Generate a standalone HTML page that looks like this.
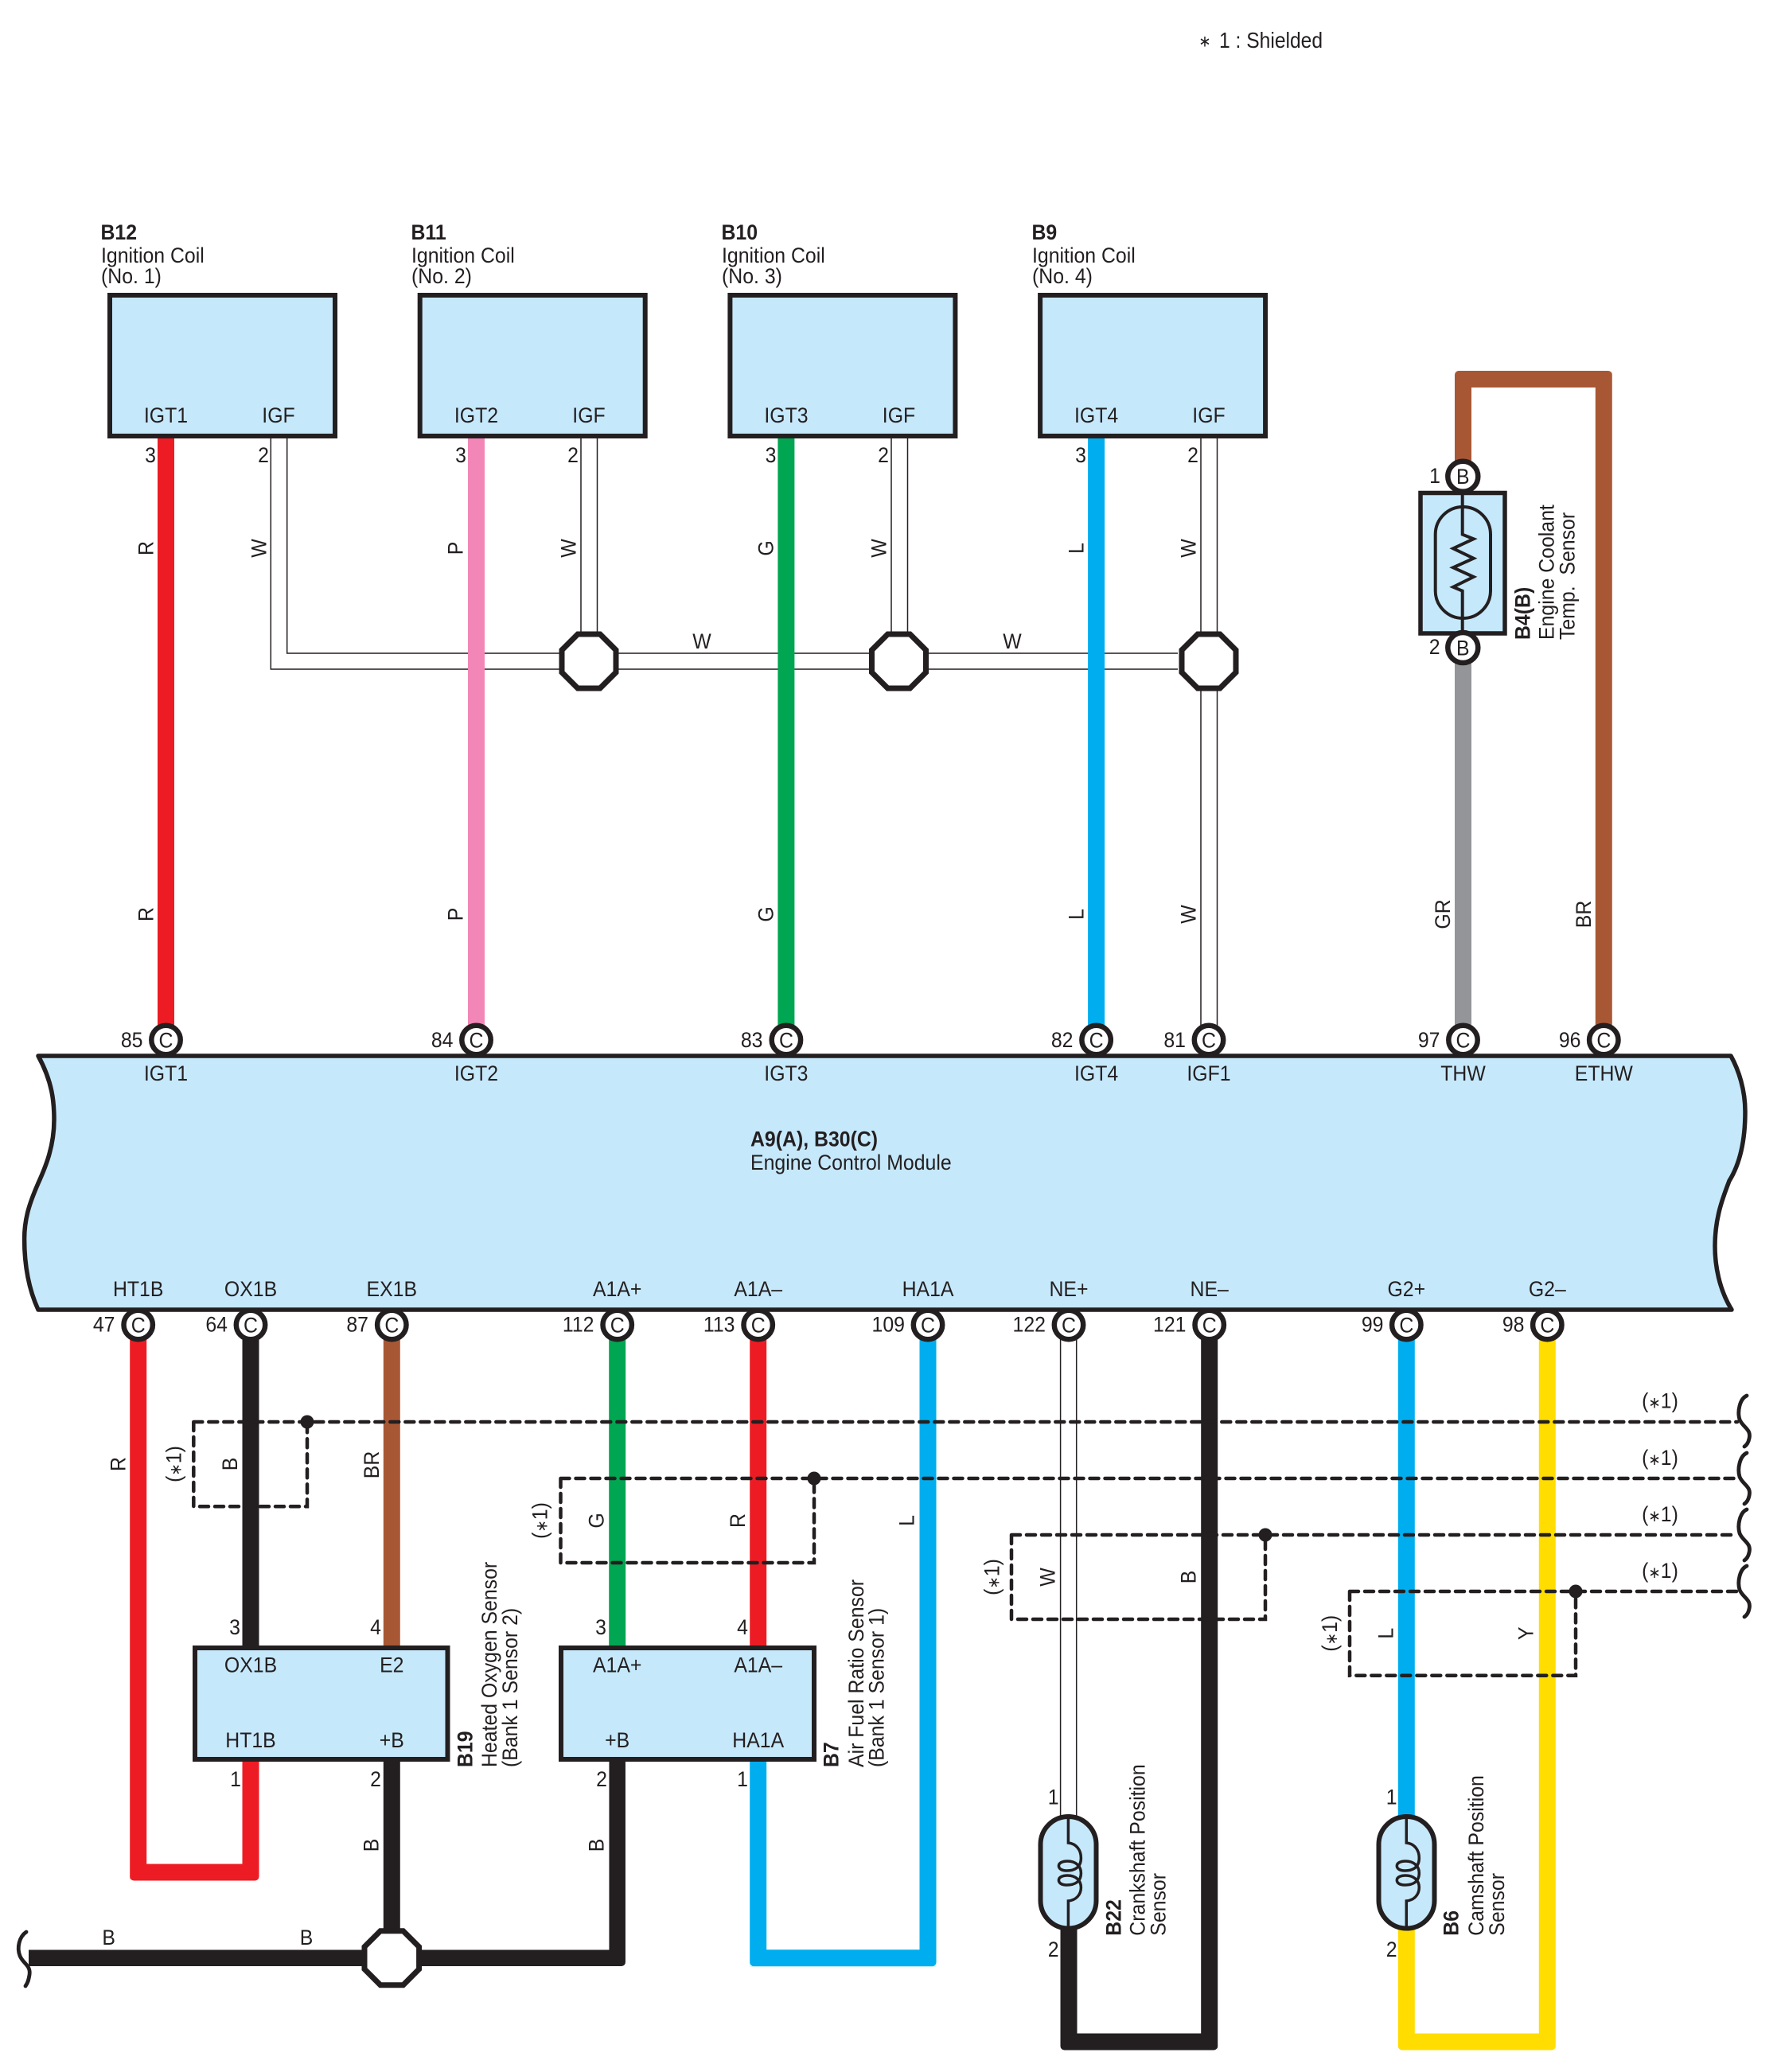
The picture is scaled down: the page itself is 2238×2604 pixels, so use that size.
<!DOCTYPE html>
<html><head><meta charset="utf-8"><title>Wiring diagram</title>
<style>
html,body{margin:0;padding:0;background:#fff}
svg{display:block}
text{font-family:"Liberation Sans",Arial,sans-serif;font-size:27px;fill:#231F20}
.m{text-anchor:middle}.e{text-anchor:end}.b{font-weight:bold}
tspan.s{font-size:20px}
.w{fill:none;stroke-width:21}
.th{stroke:#231F20;stroke-width:1.5;fill:none}
.box{fill:#C6E8FB;stroke:#231F20;stroke-width:6}
.c{fill:#fff;stroke:#231F20;stroke-width:6.5}
.o{fill:#fff;stroke:#231F20;stroke-width:7}
.d{fill:none;stroke:#231F20;stroke-width:4.5;stroke-dasharray:11 8;stroke-linecap:round}
.br{fill:none;stroke:#231F20;stroke-width:4.8;stroke-linecap:round}
</style></head><body>
<svg xmlns="http://www.w3.org/2000/svg" width="2238" height="2604" viewBox="0 0 2238 2604">
<rect width="2238" height="2604" fill="#fff"/>

<!-- legend -->
<text class="m" style="font-size:20px" transform="translate(1514 58.5) scale(.92 1)">∗</text>
<text style="font-size:28px" transform="translate(1532 60) scale(.88 1)">1 : Shielded</text>

<!-- coil headers -->
<text class="b" transform="translate(126.5 301) scale(.92 1)">B12</text>
<text transform="translate(127 330) scale(.92 1)">Ignition Coil</text>
<text transform="translate(127 356) scale(.92 1)">(No. 1)</text>
<text class="b" transform="translate(516.5 301) scale(.92 1)">B11</text>
<text transform="translate(517 330) scale(.92 1)">Ignition Coil</text>
<text transform="translate(517 356) scale(.92 1)">(No. 2)</text>
<text class="b" transform="translate(906.5 301) scale(.92 1)">B10</text>
<text transform="translate(907 330) scale(.92 1)">Ignition Coil</text>
<text transform="translate(907 356) scale(.92 1)">(No. 3)</text>
<text class="b" transform="translate(1296.5 301) scale(.92 1)">B9</text>
<text transform="translate(1297 330) scale(.92 1)">Ignition Coil</text>
<text transform="translate(1297 356) scale(.92 1)">(No. 4)</text>

<!-- white double wires top -->
<path class="th" d="M340.3 550V841H1480M360.7 550V821H1480"/>
<path class="th" d="M730 550V800M750.5 550V800M1120 550V800M1140.5 550V800M1509 550V1290M1529.5 550V1290"/>

<!-- top wires -->
<path class="w" stroke="#ED1C24" d="M208.5 548V1290"/>
<path class="w" stroke="#F287B7" d="M598.5 548V1290"/>
<path class="w" stroke="#00A651" d="M987.9 548V1290"/>
<path class="w" stroke="#00AEEF" d="M1377.6 548V1290"/>
<path class="w" stroke="#A85735" d="M1838.5 590V476.5H2015.3V1295"/>
<path class="w" stroke="#939598" d="M1838.5 820V1295"/>
<path fill="#fff" d="M1828 466h5a5 5 0 0 0 -5 5zM2025.8 466h-5a5 5 0 0 1 5 5z"/>

<!-- coil boxes -->
<rect class="box" x="138" y="371" width="283" height="177"/>
<rect class="box" x="527.7" y="371" width="283" height="177"/>
<rect class="box" x="917.4" y="371" width="283" height="177"/>
<rect class="box" x="1307.1" y="371" width="283" height="177"/>

<text class="m" transform="translate(208.5 531) scale(.92 1)">IGT1</text>
<text class="m" transform="translate(350 531) scale(.92 1)">IGF</text>
<text class="m" transform="translate(598.5 531) scale(.92 1)">IGT2</text>
<text class="m" transform="translate(740 531) scale(.92 1)">IGF</text>
<text class="m" transform="translate(988 531) scale(.92 1)">IGT3</text>
<text class="m" transform="translate(1129.5 531) scale(.92 1)">IGF</text>
<text class="m" transform="translate(1377.6 531) scale(.92 1)">IGT4</text>
<text class="m" transform="translate(1519 531) scale(.92 1)">IGF</text>

<text class="e" transform="translate(196 581) scale(.92 1)">3</text>
<text class="e" transform="translate(338 581) scale(.92 1)">2</text>
<text class="e" transform="translate(586 581) scale(.92 1)">3</text>
<text class="e" transform="translate(727 581) scale(.92 1)">2</text>
<text class="e" transform="translate(975.5 581) scale(.92 1)">3</text>
<text class="e" transform="translate(1117 581) scale(.92 1)">2</text>
<text class="e" transform="translate(1365 581) scale(.92 1)">3</text>
<text class="e" transform="translate(1506 581) scale(.92 1)">2</text>

<!-- vertical colour labels top -->
<text class="m" transform="translate(192.7 689) rotate(-90) scale(.92 1)">R</text>
<text class="m" transform="translate(334.7 689) rotate(-90) scale(.92 1)">W</text>
<text class="m" transform="translate(581.7 689) rotate(-90) scale(.92 1)">P</text>
<text class="m" transform="translate(723.7 689) rotate(-90) scale(.92 1)">W</text>
<text class="m" transform="translate(971.7 689) rotate(-90) scale(.92 1)">G</text>
<text class="m" transform="translate(1113.7 689) rotate(-90) scale(.92 1)">W</text>
<text class="m" transform="translate(1361.3 689) rotate(-90) scale(.92 1)">L</text>
<text class="m" transform="translate(1502.7 689) rotate(-90) scale(.92 1)">W</text>
<text class="m" transform="translate(192.7 1149) rotate(-90) scale(.92 1)">R</text>
<text class="m" transform="translate(581.7 1149) rotate(-90) scale(.92 1)">P</text>
<text class="m" transform="translate(971.7 1149) rotate(-90) scale(.92 1)">G</text>
<text class="m" transform="translate(1361.3 1149) rotate(-90) scale(.92 1)">L</text>
<text class="m" transform="translate(1502.7 1149) rotate(-90) scale(.92 1)">W</text>
<text class="m" transform="translate(1822.2 1149) rotate(-90) scale(.92 1)">GR</text>
<text class="m" transform="translate(1999.2 1149) rotate(-90) scale(.92 1)">BR</text>
<text class="m" transform="translate(882 815) scale(.92 1)">W</text>
<text class="m" transform="translate(1272 815) scale(.92 1)">W</text>

<!-- octagons -->
<path class="o" d="M726 797H754L774 817V845L754 865H726L706 845V817Z"/>
<path class="o" d="M1115.5 797H1143.5L1163.5 817V845L1143.5 865H1115.5L1095.5 845V817Z"/>
<path class="o" d="M1505 797H1533L1553 817V845L1533 865H1505L1485 845V817Z"/>

<!-- thermistor B4 -->
<rect class="box" x="1785" y="619.5" width="106" height="176.5" style="stroke-width:5.5"/>
<rect x="1803.7" y="637" width="69.3" height="140" rx="34.6" ry="34.6" fill="none" stroke="#231F20" stroke-width="4"/>
<path d="M1837.7 619V671.7L1851.7 677.3L1826 689.3L1851.7 701.7L1826 713.3L1851.7 725L1826 737.7L1837.7 742.7V795" fill="none" stroke="#231F20" stroke-width="4"/>
<circle class="c" cx="1838.3" cy="598.7" r="19"/>
<circle class="c" cx="1838.3" cy="814" r="19"/>
<text class="m" transform="translate(1838.3 608.2) scale(.92 1)">B</text>
<text class="m" transform="translate(1838.3 823.5) scale(.92 1)">B</text>
<text class="m" transform="translate(1803 607) scale(.92 1)">1</text>
<text class="m" transform="translate(1802.7 822) scale(.92 1)">2</text>
<text class="b" transform="translate(1922.7 804) rotate(-90) scale(.92 1)">B4(B)</text>
<text transform="translate(1952.7 804) rotate(-90) scale(.92 1)">Engine Coolant</text>
<text transform="translate(1978.7 804) rotate(-90) scale(.92 1)">Temp.&#160;&#160;Sensor</text>

<!-- bottom white pair -->
<path class="th" d="M1332.6 1680V2290M1352.7 1680V2290"/>

<!-- bottom wires -->
<path class="w" stroke="#ED1C24" d="M173.7 1680V2353H315V2210"/>
<path class="w" stroke="#231F20" d="M315 1680V2072"/>
<path class="w" stroke="#A85735" d="M492.3 1680V2072"/>
<path class="w" stroke="#00A651" d="M775.7 1680V2072"/>
<path class="w" stroke="#ED1C24" d="M952.7 1680V2072"/>
<path class="w" stroke="#00AEEF" d="M1166 1680V2460.7H952.7V2210"/>
<path class="w" stroke="#231F20" d="M1519.7 1680V2566H1343V2420"/>
<path class="w" stroke="#00AEEF" d="M1767.3 1680V2290"/>
<path class="w" stroke="#FFDD00" d="M1944.3 1680V2566H1767.3V2420"/>
<path class="w" stroke="#231F20" d="M492.3 2210V2440"/>
<path class="w" stroke="#231F20" style="stroke-width:20.5" d="M36 2460.7H775.7V2210"/>
<!-- rounded outer corners -->
<path fill="#fff" d="M163.2 2363.5h5a5 5 0 0 1 -5 -5zM325.5 2363.5h-5a5 5 0 0 0 5 -5zM786 2471h-5a5 5 0 0 0 5 -5zM942.2 2471.2h5a5 5 0 0 1 -5 -5zM1176.5 2471.2h-5a5 5 0 0 0 5 -5zM1332.5 2576.5h5a5 5 0 0 1 -5 -5zM1530.2 2576.5h-5a5 5 0 0 0 5 -5zM1756.8 2576.5h5a5 5 0 0 1 -5 -5zM1954.8 2576.5h-5a5 5 0 0 0 5 -5z"/>

<!-- ECM -->
<path d="M48 1327C66 1360 68 1385 68 1407C68 1440 58 1465 48 1487C38 1510 30.6 1530 30.6 1557C30.6 1590 36 1620 48 1646H2176C2160 1620 2155 1590 2155 1566C2155 1530 2165 1505 2173 1484C2188 1460 2193 1430 2193 1397C2193 1370 2185 1345 2175 1327Z" fill="#C6E8FB" stroke="#231F20" stroke-width="5.5" stroke-linejoin="round"/>
<text class="b" transform="translate(943 1440.7) scale(.92 1)">A9(A), B30(C)</text>
<text transform="translate(943 1470) scale(.92 1)">Engine Control Module</text>

<!-- ECM top terminals -->
<circle class="c" cx="208.5" cy="1307" r="18.2"/><circle class="c" cx="598.5" cy="1307" r="18.2"/><circle class="c" cx="987.9" cy="1307" r="18.2"/><circle class="c" cx="1377.6" cy="1307" r="18.2"/><circle class="c" cx="1519" cy="1307" r="18.2"/><circle class="c" cx="1838.5" cy="1307" r="18.2"/><circle class="c" cx="2015.3" cy="1307" r="18.2"/>
<text class="m" transform="translate(208.5 1316.5) scale(.92 1)">C</text>
<text class="m" transform="translate(598.5 1316.5) scale(.92 1)">C</text>
<text class="m" transform="translate(987.9 1316.5) scale(.92 1)">C</text>
<text class="m" transform="translate(1377.6 1316.5) scale(.92 1)">C</text>
<text class="m" transform="translate(1519 1316.5) scale(.92 1)">C</text>
<text class="m" transform="translate(1838.5 1316.5) scale(.92 1)">C</text>
<text class="m" transform="translate(2015.3 1316.5) scale(.92 1)">C</text>
<text class="e" transform="translate(179.5 1316) scale(.92 1)">85</text>
<text class="e" transform="translate(569.5 1316) scale(.92 1)">84</text>
<text class="e" transform="translate(958.5 1316) scale(.92 1)">83</text>
<text class="e" transform="translate(1348.5 1316) scale(.92 1)">82</text>
<text class="e" transform="translate(1490 1316) scale(.92 1)">81</text>
<text class="e" transform="translate(1809.5 1316) scale(.92 1)">97</text>
<text class="e" transform="translate(1986.5 1316) scale(.92 1)">96</text>
<text class="m" transform="translate(208.5 1358) scale(.92 1)">IGT1</text>
<text class="m" transform="translate(598.5 1358) scale(.92 1)">IGT2</text>
<text class="m" transform="translate(987.9 1358) scale(.92 1)">IGT3</text>
<text class="m" transform="translate(1377.6 1358) scale(.92 1)">IGT4</text>
<text class="m" transform="translate(1519 1358) scale(.92 1)">IGF1</text>
<text class="m" transform="translate(1838.5 1358) scale(.92 1)">THW</text>
<text class="m" transform="translate(2015.3 1358) scale(.92 1)">ETHW</text>

<!-- ECM bottom labels/terminals -->
<text class="m" transform="translate(173.7 1629) scale(.92 1)">HT1B</text>
<text class="m" transform="translate(315 1629) scale(.92 1)">OX1B</text>
<text class="m" transform="translate(492.3 1629) scale(.92 1)">EX1B</text>
<text class="m" transform="translate(775.7 1629) scale(.92 1)">A1A+</text>
<text class="m" transform="translate(952.7 1629) scale(.92 1)">A1A–</text>
<text class="m" transform="translate(1166 1629) scale(.92 1)">HA1A</text>
<text class="m" transform="translate(1343 1629) scale(.92 1)">NE+</text>
<text class="m" transform="translate(1519.7 1629) scale(.92 1)">NE–</text>
<text class="m" transform="translate(1767.3 1629) scale(.92 1)">G2+</text>
<text class="m" transform="translate(1944.3 1629) scale(.92 1)">G2–</text>
<circle class="c" cx="173.7" cy="1665" r="18.2"/><circle class="c" cx="315" cy="1665" r="18.2"/><circle class="c" cx="492.3" cy="1665" r="18.2"/><circle class="c" cx="775.7" cy="1665" r="18.2"/><circle class="c" cx="952.7" cy="1665" r="18.2"/><circle class="c" cx="1166" cy="1665" r="18.2"/><circle class="c" cx="1343" cy="1665" r="18.2"/><circle class="c" cx="1519.7" cy="1665" r="18.2"/><circle class="c" cx="1767.3" cy="1665" r="18.2"/><circle class="c" cx="1944.3" cy="1665" r="18.2"/>
<text class="m" transform="translate(173.7 1674.5) scale(.92 1)">C</text>
<text class="m" transform="translate(315 1674.5) scale(.92 1)">C</text>
<text class="m" transform="translate(492.3 1674.5) scale(.92 1)">C</text>
<text class="m" transform="translate(775.7 1674.5) scale(.92 1)">C</text>
<text class="m" transform="translate(952.7 1674.5) scale(.92 1)">C</text>
<text class="m" transform="translate(1166 1674.5) scale(.92 1)">C</text>
<text class="m" transform="translate(1343 1674.5) scale(.92 1)">C</text>
<text class="m" transform="translate(1519.7 1674.5) scale(.92 1)">C</text>
<text class="m" transform="translate(1767.3 1674.5) scale(.92 1)">C</text>
<text class="m" transform="translate(1944.3 1674.5) scale(.92 1)">C</text>
<text class="e" transform="translate(144.5 1673.5) scale(.92 1)">47</text>
<text class="e" transform="translate(286 1673.5) scale(.92 1)">64</text>
<text class="e" transform="translate(463 1673.5) scale(.92 1)">87</text>
<text class="e" transform="translate(746.5 1673.5) scale(.92 1)">112</text>
<text class="e" transform="translate(923.5 1673.5) scale(.92 1)">113</text>
<text class="e" transform="translate(1137 1673.5) scale(.92 1)">109</text>
<text class="e" transform="translate(1314 1673.5) scale(.92 1)">122</text>
<text class="e" transform="translate(1490.5 1673.5) scale(.92 1)">121</text>
<text class="e" transform="translate(1738.5 1673.5) scale(.92 1)">99</text>
<text class="e" transform="translate(1915.5 1673.5) scale(.92 1)">98</text>

<!-- shield dashes -->
<path class="d" d="M243.3 1787H2183M243.3 1787V1893.3H386V1787"/>
<path class="d" d="M704.5 1858H2183M704.5 1858V1964H1023V1858"/>
<path class="d" d="M1271 1929H2183M1271 1929V2035H1590V1929"/>
<path class="d" d="M1696 2000H2183M1696 2000V2105.7H1980V2000"/>
<circle cx="386" cy="1787" r="8.5" fill="#231F20"/>
<circle cx="1023" cy="1858" r="8.5" fill="#231F20"/>
<circle cx="1590" cy="1929" r="8.5" fill="#231F20"/>
<circle cx="1980" cy="2000" r="8.5" fill="#231F20"/>

<!-- braces -->
<path class="br" d="M2195 1754C2186 1758 2183 1774 2186 1784C2190 1794 2201 1796 2198 1808C2197 1813 2195 1816 2192 1818"/>
<path class="br" d="M2195 1826C2186 1830 2183 1846 2186 1856C2190 1866 2201 1868 2198 1880C2197 1885 2195 1888 2192 1890"/>
<path class="br" d="M2195 1897C2186 1901 2183 1917 2186 1927C2190 1937 2201 1939 2198 1951C2197 1956 2195 1959 2192 1961"/>
<path class="br" d="M2195 1968C2186 1972 2183 1988 2186 1998C2190 2008 2201 2010 2198 2022C2197 2027 2195 2030 2192 2032"/>
<path class="br" d="M33 2428C24 2434 21 2448 25 2458C29 2468 39 2470 37 2482C36 2488 35 2492 32 2496"/>

<!-- (*1) horizontal -->
<text class="m" transform="translate(2086 1769.5) scale(.92 1)">(<tspan class="s">∗</tspan>1)</text>
<text class="m" transform="translate(2086 1841) scale(.92 1)">(<tspan class="s">∗</tspan>1)</text>
<text class="m" transform="translate(2086 1912) scale(.92 1)">(<tspan class="s">∗</tspan>1)</text>
<text class="m" transform="translate(2086 1983) scale(.92 1)">(<tspan class="s">∗</tspan>1)</text>

<!-- rotated labels bottom -->
<text class="m" transform="translate(157.4 1840) rotate(-90) scale(.92 1)">R</text>
<text class="m" transform="translate(227.5 1840) rotate(-90) scale(.92 1)">(<tspan class="s">∗</tspan>1)</text>
<text class="m" transform="translate(298 1840) rotate(-90) scale(.92 1)">B</text>
<text class="m" transform="translate(476 1841) rotate(-90) scale(.92 1)">BR</text>
<text class="m" transform="translate(687.5 1911) rotate(-90) scale(.92 1)">(<tspan class="s">∗</tspan>1)</text>
<text class="m" transform="translate(758.7 1911) rotate(-90) scale(.92 1)">G</text>
<text class="m" transform="translate(936 1911) rotate(-90) scale(.92 1)">R</text>
<text class="m" transform="translate(1148.7 1911) rotate(-90) scale(.92 1)">L</text>
<text class="m" transform="translate(1255.5 1982) rotate(-90) scale(.92 1)">(<tspan class="s">∗</tspan>1)</text>
<text class="m" transform="translate(1325.7 1982) rotate(-90) scale(.92 1)">W</text>
<text class="m" transform="translate(1502.7 1982) rotate(-90) scale(.92 1)">B</text>
<text class="m" transform="translate(1680.2 2052.7) rotate(-90) scale(.92 1)">(<tspan class="s">∗</tspan>1)</text>
<text class="m" transform="translate(1750.4 2052.7) rotate(-90) scale(.92 1)">L</text>
<text class="m" transform="translate(1926.7 2052.7) rotate(-90) scale(.92 1)">Y</text>

<!-- sensor boxes -->
<rect class="box" x="245" y="2071" width="317.5" height="140"/>
<rect class="box" x="705" y="2071" width="318" height="140"/>
<text class="m" transform="translate(295 2054) scale(.92 1)">3</text>
<text class="m" transform="translate(472 2054) scale(.92 1)">4</text>
<text class="m" transform="translate(755 2054) scale(.92 1)">3</text>
<text class="m" transform="translate(933 2054) scale(.92 1)">4</text>
<text class="m" transform="translate(315 2101.7) scale(.92 1)">OX1B</text>
<text class="m" transform="translate(492.3 2101.7) scale(.92 1)">E2</text>
<text class="m" transform="translate(315 2196) scale(.92 1)">HT1B</text>
<text class="m" transform="translate(492.3 2196) scale(.92 1)">+B</text>
<text class="m" transform="translate(775.7 2101.7) scale(.92 1)">A1A+</text>
<text class="m" transform="translate(952.7 2101.7) scale(.92 1)">A1A–</text>
<text class="m" transform="translate(775.7 2196) scale(.92 1)">+B</text>
<text class="m" transform="translate(952.7 2196) scale(.92 1)">HA1A</text>
<text class="m" transform="translate(296 2245) scale(.92 1)">1</text>
<text class="m" transform="translate(472 2245) scale(.92 1)">2</text>
<text class="m" transform="translate(756 2245) scale(.92 1)">2</text>
<text class="m" transform="translate(933 2245) scale(.92 1)">1</text>
<text class="m" transform="translate(475.7 2319) rotate(-90) scale(.92 1)">B</text>
<text class="m" transform="translate(758.7 2319) rotate(-90) scale(.92 1)">B</text>
<text class="m" transform="translate(136.7 2444) scale(.92 1)">B</text>
<text class="m" transform="translate(385 2444) scale(.92 1)">B</text>
<text class="b" transform="translate(593.4 2221) rotate(-90) scale(.92 1)">B19</text>
<text transform="translate(624 2221) rotate(-90) scale(.92 1)">Heated Oxygen Sensor</text>
<text transform="translate(650 2221) rotate(-90) scale(.92 1)">(Bank 1 Sensor 2)</text>
<text class="b" transform="translate(1053.5 2221) rotate(-90) scale(.92 1)">B7</text>
<text transform="translate(1085 2221) rotate(-90) scale(.92 1)">Air Fuel Ratio Sensor</text>
<text transform="translate(1110.5 2221) rotate(-90) scale(.92 1)">(Bank 1 Sensor 1)</text>

<!-- junction bottom -->
<path class="o" d="M478 2426.7H506.6L526.6 2446.7V2474.7L506.6 2494.7H478L458 2474.7V2446.7Z"/>

<!-- magnetic sensors -->
<rect class="box" x="1307.5" y="2283" width="70" height="140.5" rx="35" ry="35"/>
<path transform="translate(1342.4 0)" d="M0 2283V2316C10 2317 16 2325 16 2335C16 2347 8 2351 -2 2351C-9 2351 -12 2348 -12 2345C-12 2341 -7 2339 -1 2339C9 2339 16 2345 16 2354C16 2365 8 2369 -2 2369C-9 2369 -12 2366 -12 2363C-12 2359 -7 2357 -1 2357C9 2357 16 2363 16 2372C16 2381 10 2388 0 2389V2424" fill="none" stroke="#231F20" stroke-width="3.5"/>
<rect class="box" x="1732.5" y="2283" width="70" height="140.5" rx="35" ry="35"/>
<path transform="translate(1767.3 0)" d="M0 2283V2316C10 2317 16 2325 16 2335C16 2347 8 2351 -2 2351C-9 2351 -12 2348 -12 2345C-12 2341 -7 2339 -1 2339C9 2339 16 2345 16 2354C16 2365 8 2369 -2 2369C-9 2369 -12 2366 -12 2363C-12 2359 -7 2357 -1 2357C9 2357 16 2363 16 2372C16 2381 10 2388 0 2389V2424" fill="none" stroke="#231F20" stroke-width="3.5"/>
<text class="m" transform="translate(1323.7 2267.7) scale(.92 1)">1</text>
<text class="m" transform="translate(1323.7 2459) scale(.92 1)">2</text>
<text class="m" transform="translate(1748.7 2267.7) scale(.92 1)">1</text>
<text class="m" transform="translate(1748.7 2459) scale(.92 1)">2</text>
<text class="b" transform="translate(1408.5 2432.7) rotate(-90) scale(.92 1)">B22</text>
<text transform="translate(1438.7 2432.7) rotate(-90) scale(.92 1)">Crankshaft Position</text>
<text transform="translate(1464.5 2432.7) rotate(-90) scale(.92 1)">Sensor</text>
<text class="b" transform="translate(1832.6 2432.7) rotate(-90) scale(.92 1)">B6</text>
<text transform="translate(1864 2432.7) rotate(-90) scale(.92 1)">Camshaft Position</text>
<text transform="translate(1890 2432.7) rotate(-90) scale(.92 1)">Sensor</text>
</svg>
</body></html>
